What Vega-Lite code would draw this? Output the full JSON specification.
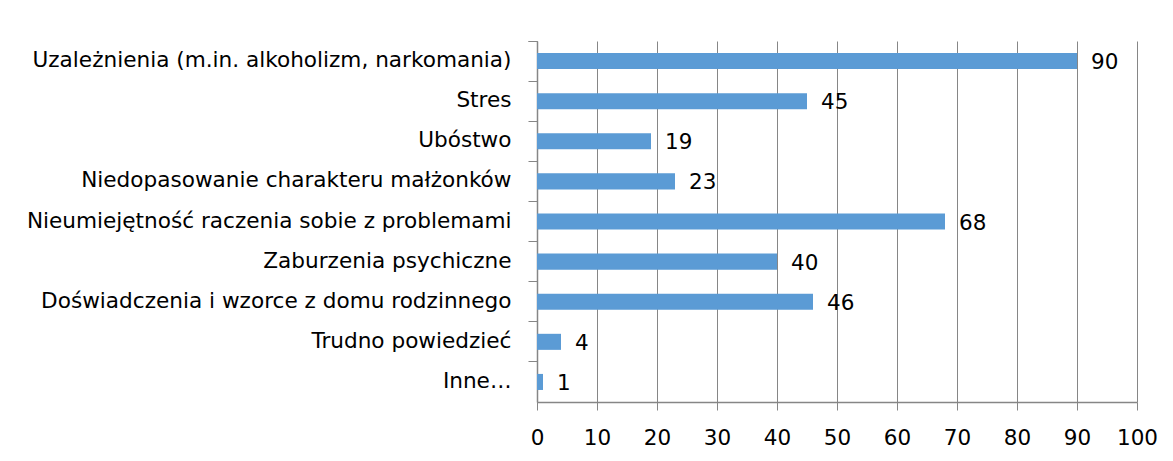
{
  "$schema": "https://vega.github.io/schema/vega-lite/v6.json",
  "autosize": {"type": "none"},
  "padding": {"left": 537, "top": 41, "right": 36, "bottom": 59},
  "width": 600,
  "height": 361,
  "background": "white",
  "config": {
    "view": {"stroke": null},
    "font": "DejaVu Sans"
  },
  "data": {
    "values": [
      {"kategoria": "Uzależnienia (m.in. alkoholizm, narkomania)", "wartosc": 90},
      {"kategoria": "Stres", "wartosc": 45},
      {"kategoria": "Ubóstwo", "wartosc": 19},
      {"kategoria": "Niedopasowanie charakteru małżonków", "wartosc": 23},
      {"kategoria": "Nieumiejętność raczenia sobie z problemami", "wartosc": 68},
      {"kategoria": "Zaburzenia psychiczne", "wartosc": 40},
      {"kategoria": "Doświadczenia i wzorce z domu rodzinnego", "wartosc": 46},
      {"kategoria": "Trudno powiedzieć", "wartosc": 4},
      {"kategoria": "Inne…", "wartosc": 1}
    ]
  },
  "encoding": {
    "y": {
      "field": "kategoria",
      "type": "nominal",
      "sort": null,
      "scale": {"paddingInner": 0, "paddingOuter": 0},
      "axis": {
        "title": null,
        "bandPosition": 0,
        "tickExtra": true,
        "tickSize": 9,
        "tickColor": "#868686",
        "domainColor": "#868686",
        "domainWidth": 1.5,
        "labelFontSize": 21.6,
        "labelColor": "#000000",
        "labelPadding": 17,
        "labelLimit": 530,
        "grid": false
      }
    },
    "x": {
      "field": "wartosc",
      "type": "quantitative",
      "scale": {"domain": [0, 100], "nice": false},
      "axis": {
        "title": null,
        "values": [0, 10, 20, 30, 40, 50, 60, 70, 80, 90, 100],
        "grid": true,
        "gridColor": "#868686",
        "gridWidth": 1,
        "tickColor": "#868686",
        "tickSize": 8,
        "domainColor": "#868686",
        "domainWidth": 1.5,
        "labelFontSize": 21.5,
        "labelColor": "#000000",
        "labelPadding": 17,
        "labelFlush": false
      }
    }
  },
  "layer": [
    {
      "mark": {"type": "bar", "color": "#5B9BD5", "height": {"band": 0.4}}
    },
    {
      "mark": {"type": "text", "align": "left", "baseline": "middle", "dx": 14, "dy": 2, "fontSize": 21.5, "color": "#000000"},
      "encoding": {"text": {"field": "wartosc", "type": "quantitative"}}
    }
  ]
}
